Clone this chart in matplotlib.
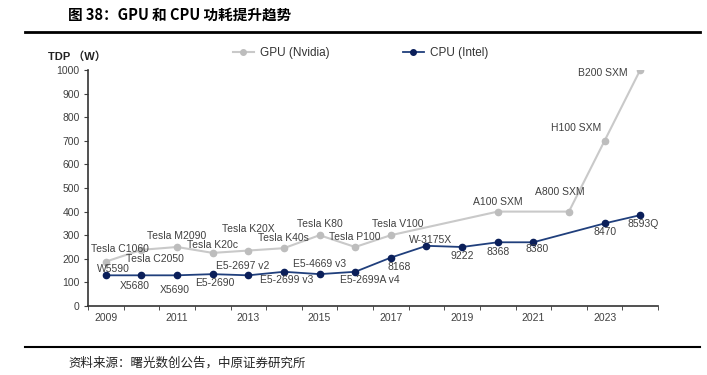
import numpy as np
import matplotlib.pyplot as plt
from matplotlib.lines import Line2D

plt.rcParams['font.family'] = ['Liberation Sans', 'Noto Sans CJK SC', 'DejaVu Sans']

years = list(range(2009, 2025))
gpu_tdp = [188, 238, 250, 225, 235, 245, 300, 250, 300, None, None, 400, None, 400, 700, 1000]
gpu_names = ['Tesla C1060', 'Tesla C2050', 'Tesla M2090', 'Tesla K20c', 'Tesla K20X', 'Tesla K40s',
             'Tesla K80', 'Tesla P100', 'Tesla V100', None, None, 'A100 SXM', None, 'A800 SXM',
             'H100 SXM', 'B200 SXM']
cpu_tdp = [130, 130, 130, 135, 130, 145, 135, 145, 205, 255, 250, 270, 270, None, 350, 385]
cpu_names = ['W5590', 'X5680', 'X5690', 'E5-2690', 'E5-2697 v2', 'E5-2699 v3', 'E5-4669 v3',
             'E5-2699A v4', '8168', 'W-3175X', '9222', '8368', '8380', None, '8470', '8593Q']

# label offsets in pixels (dx, dy)
gpu_off = [(14, 13), (13, -9), (0, 11), (0, 8), (0, 22), (0, 10), (0, 11), (0, 10), (7, 11),
           None, None, (0, 10), None, (-9, 20), (-28, 13), (-37, -3)]
cpu_off = [(8, 6), (-7, -11), (-2, -15), (2, -9), (-6, 9), (3, -8), (0, 10), (15, -8), (8, -9),
           (4, 6), (0, -9), (0, -10), (4, -7), None, (0, -9), (3, -9)]

gpu_color = '#c9c9c9'
cpu_color = '#203f7c'
cpu_marker = '#0b1f5a'
txt_color = '#404040'

fig = plt.figure(figsize=(7.07, 3.75), dpi=100)
ax = fig.add_axes([88 / 707, 1 - 306 / 375, 570 / 707, 236 / 375])

x = np.arange(len(years))
gx = [i for i, v in enumerate(gpu_tdp) if v is not None]
gy = [gpu_tdp[i] for i in gx]
cx = [i for i, v in enumerate(cpu_tdp) if v is not None]
cy = [cpu_tdp[i] for i in cx]

ax.plot(gx, gy, color=gpu_color, lw=1.5, marker='o', ms=4.5, mfc='#bdbdbd', mec='#bdbdbd', zorder=2)
ax.plot(cx, cy, color=cpu_color, lw=1.3, marker='o', ms=4.5, mfc=cpu_marker, mec=cpu_marker, zorder=3)

for i in gx:
    dx, dy = gpu_off[i]
    ax.annotate(gpu_names[i], (i, gpu_tdp[i]), xytext=(dx, dy), textcoords='offset pixels',
                ha='center', va='center', fontsize=7.5, color=txt_color)
for i in cx:
    dx, dy = cpu_off[i]
    ax.annotate(cpu_names[i], (i, cpu_tdp[i]), xytext=(dx, dy), textcoords='offset pixels',
                ha='center', va='center', fontsize=7.5, color=txt_color)

ax.set_xlim(-0.5, len(years) - 0.5)
ax.set_ylim(0, 1000)
ax.set_yticks(range(0, 1001, 100))
ax.set_xticks(x[::2])
ax.set_xticklabels([str(y) for y in years[::2]])
ax.set_xticks(np.arange(-0.5, len(years), 1), minor=True)
ax.tick_params(axis='x', which='major', length=0, labelsize=7.5, colors=txt_color, pad=5)
ax.tick_params(axis='x', which='minor', length=3, direction='out', color='#333333')
ax.tick_params(axis='y', length=3, labelsize=7.5, colors=txt_color, pad=3)
for s in ['top', 'right']:
    ax.spines[s].set_visible(False)
for s in ['left', 'bottom']:
    ax.spines[s].set_color('#333333')
    ax.spines[s].set_linewidth(1.2)

fig.text(48 / 707, 1 - 57 / 375, 'TDP （W）', fontsize=8, color='#222222', va='center', ha='left',
         weight='bold')

handles = [Line2D([], [], color=gpu_color, lw=1.5, marker='o', ms=4, mfc='#bdbdbd', mec='#bdbdbd'),
           Line2D([], [], color=cpu_color, lw=1.3, marker='o', ms=4, mfc=cpu_marker, mec=cpu_marker)]
fig.legend(handles, ['GPU (Nvidia)', 'CPU (Intel)'], ncol=2, frameon=False, fontsize=8.5,
           loc='center left', bbox_to_anchor=(222 / 707, 1 - 53 / 375), columnspacing=6.2,
           handlelength=1.8, handletextpad=0.5, labelcolor='#333333')

# title and footer
fig.text(68 / 707, 1 - 15 / 375, '图 38：GPU 和 CPU 功耗提升趋势', fontsize=10.5, weight='bold',
         family=['Noto Sans CJK SC', 'DejaVu Sans'], va='center', ha='left')
fig.add_artist(Line2D([25 / 707, 700 / 707], [1 - 32 / 375, 1 - 32 / 375], color='black', lw=2))
fig.add_artist(Line2D([25 / 707, 700 / 707], [1 - 347 / 375, 1 - 347 / 375], color='black', lw=1.5))
fig.text(68 / 707, 1 - 363 / 375, '资料来源：曙光数创公告，中原证券研究所', fontsize=9,
         family=['Noto Sans CJK SC', 'DejaVu Sans'], va='center', ha='left', color='#222222')

fig.savefig('out.png', dpi=100)
